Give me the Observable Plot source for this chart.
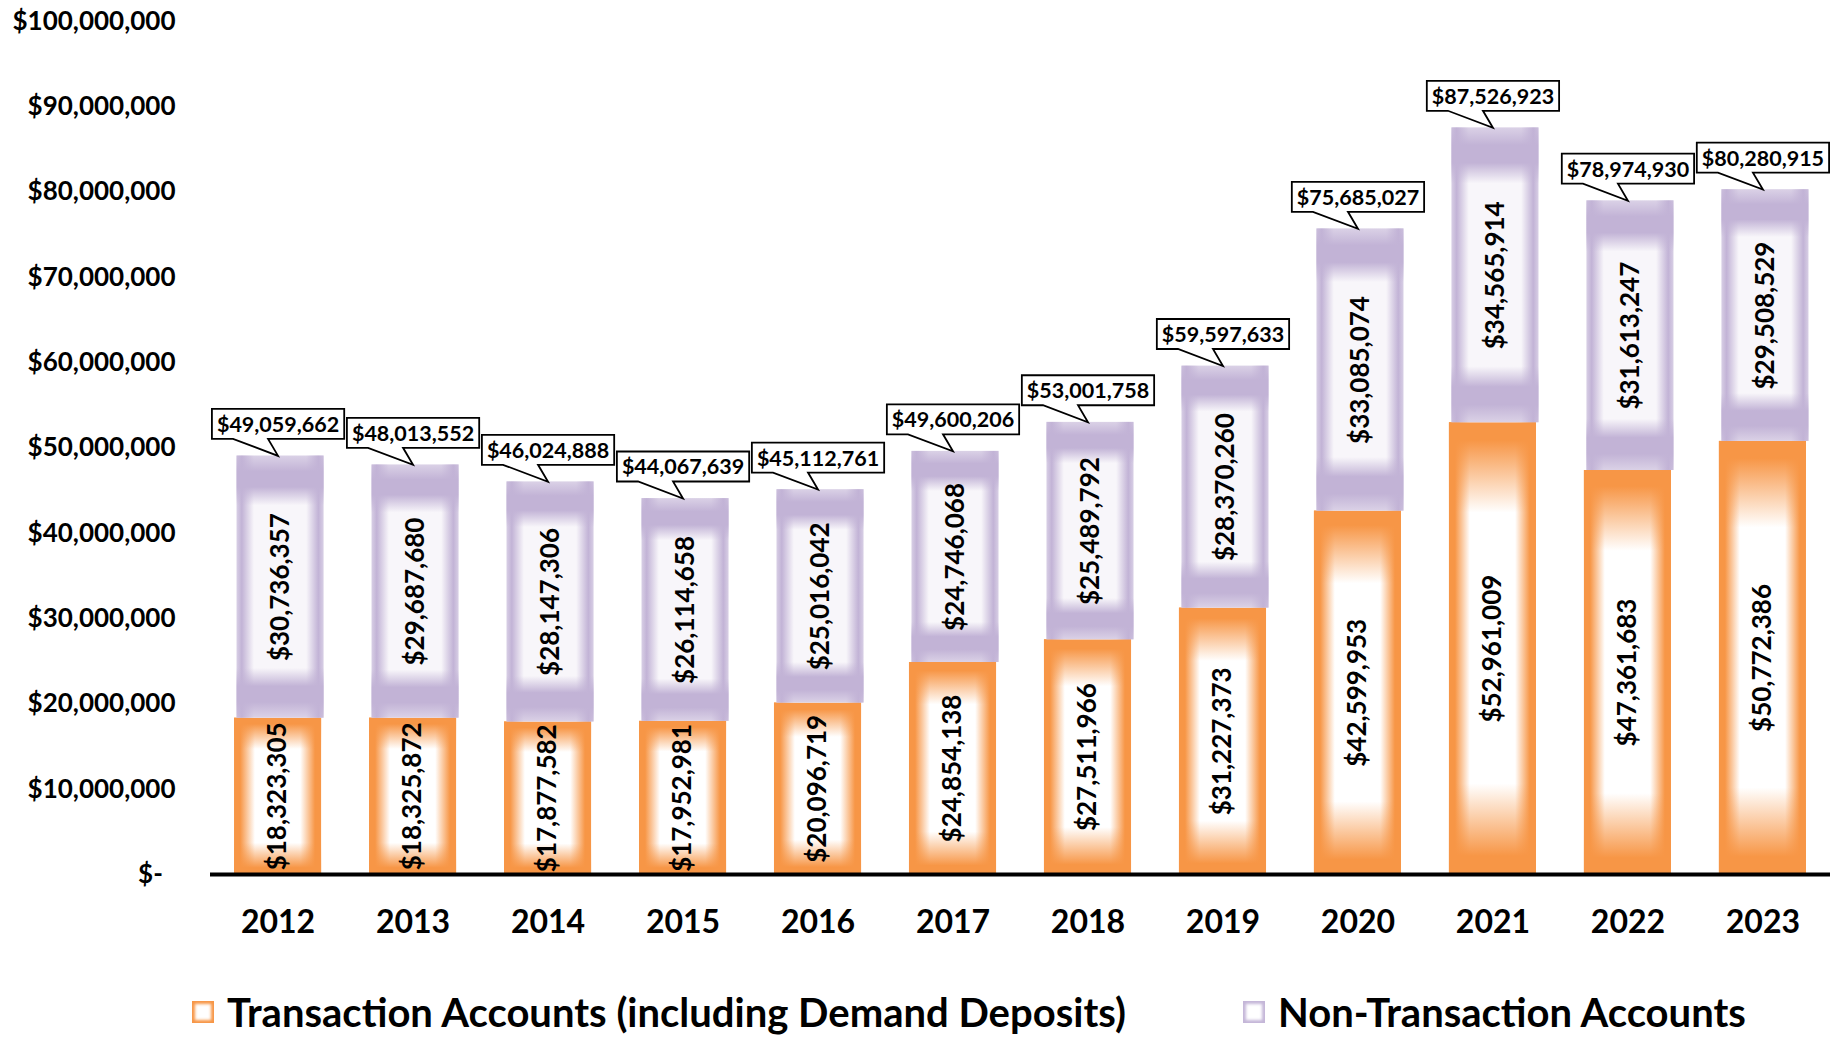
<!DOCTYPE html>
<html><head><meta charset="utf-8">
<script src="https://cdn.jsdelivr.net/npm/d3@7"></script>
<script src="https://cdn.jsdelivr.net/npm/@observablehq/plot@0.6"></script>
<style>
html,body{margin:0;padding:0;background:#fff;}
body{width:1846px;height:1038px;overflow:hidden;position:relative;font-family:Lato, sans-serif;}
#chart{position:absolute;left:0;top:0;}
.item{position:absolute;top:992px;display:flex;align-items:center;font-weight:700;font-size:40px;line-height:1;color:#000;white-space:nowrap;}
.sw{width:22px;height:22px;margin-right:13px;background:#fff;}
.sw.o{box-shadow:inset 0 0 3px 3px #F79646;}
.sw.p{box-shadow:inset 0 0 3px 3px #C4B6D8;}
</style></head><body>
<svg width="0" height="0" style="position:absolute">
<defs>
<linearGradient id="oH" x1="0" y1="0" x2="1" y2="0">
 <stop offset="0" stop-color="#F79646"/>
 <stop offset="0.07" stop-color="#F79646"/>
 <stop offset="0.24" stop-color="#FFFFFF"/>
 <stop offset="0.76" stop-color="#FFFFFF"/>
 <stop offset="0.93" stop-color="#F79646"/>
 <stop offset="1" stop-color="#F79646"/>
</linearGradient>
<linearGradient id="oV" x1="0" y1="0" x2="0" y2="1">
 <stop offset="0" stop-color="#F79646" stop-opacity="1"/>
 <stop offset="0.04" stop-color="#F79646" stop-opacity="1"/>
 <stop offset="0.2" stop-color="#F79646" stop-opacity="0"/>
 <stop offset="0.8" stop-color="#F79646" stop-opacity="0"/>
 <stop offset="0.96" stop-color="#F79646" stop-opacity="1"/>
 <stop offset="1" stop-color="#F79646" stop-opacity="1"/>
</linearGradient>
<linearGradient id="pH" x1="0" y1="0" x2="1" y2="0">
 <stop offset="0" stop-color="#D8CFE5"/>
 <stop offset="0.06" stop-color="#C2B3D6"/>
 <stop offset="0.2" stop-color="#F8F6FA"/>
 <stop offset="0.8" stop-color="#F8F6FA"/>
 <stop offset="0.94" stop-color="#C2B3D6"/>
 <stop offset="1" stop-color="#D8CFE5"/>
</linearGradient>
<linearGradient id="pV" x1="0" y1="0" x2="0" y2="1">
 <stop offset="0" stop-color="#C2B3D6" stop-opacity="0.55"/>
 <stop offset="0.06" stop-color="#C2B3D6" stop-opacity="1"/>
 <stop offset="0.12" stop-color="#C2B3D6" stop-opacity="1"/>
 <stop offset="0.19" stop-color="#C2B3D6" stop-opacity="0"/>
 <stop offset="0.81" stop-color="#C2B3D6" stop-opacity="0"/>
 <stop offset="0.88" stop-color="#C2B3D6" stop-opacity="1"/>
 <stop offset="0.94" stop-color="#C2B3D6" stop-opacity="1"/>
 <stop offset="1" stop-color="#C2B3D6" stop-opacity="0.55"/>
</linearGradient>
</defs>
</svg>
<div id="chart"></div>
<div id="legend">
 <div class="item" style="left:192px"><span class="sw o"></span>Transaction Accounts (including Demand Deposits)</div>
 <div class="item" style="left:1243px"><span class="sw p"></span>Non-Transaction Accounts</div>
</div>
<script>
const years = ["2012","2013","2014","2015","2016","2017","2018","2019","2020","2021","2022","2023"];
const transaction = [18323305, 18325872, 17877582, 17952981, 20096719, 24854138, 27511966, 31227373, 42599953, 52961009, 47361683, 50772386];
const nonTransaction = [30736357, 29687680, 28147306, 26114658, 25016042, 24746068, 25489792, 28370260, 33085074, 34565914, 31613247, 29508529];
const totals = [49059662, 48013552, 46024888, 44067639, 45112761, 49600206, 53001758, 59597633, 75685027, 87526923, 78974930, 80280915];
const yTicks = [0, 10000000, 20000000, 30000000, 40000000, 50000000, 60000000, 70000000, 80000000, 90000000, 100000000];

const money = d => "$" + d3.format(",")(d);
const tRows = years.map((year, i) => ({year, y1: 0, y2: transaction[i], v: transaction[i]}));
const nRows = years.map((year, i) => ({year, y1: transaction[i], y2: transaction[i] + nonTransaction[i], v: nonTransaction[i]}));
const totRows = years.map((year, i) => ({year, total: totals[i]}));

const chart = Plot.plot({
  width: 1846, height: 960,
  marginLeft: 210, marginRight: 16, marginTop: 21, marginBottom: 86,
  style: {fontFamily: "Lato, sans-serif", background: "transparent", color: "#000", overflow: "visible"},
  x: {domain: years, paddingInner: 0.355, paddingOuter: 0.178, round: false, label: null},
  y: {domain: [0, 100000000], label: null},
  marks: [
    Plot.barY(tRows, {x: "year", y1: "y1", y2: "y2", fill: "url(#oH)"}),
    Plot.barY(tRows, {x: "year", y1: "y1", y2: "y2", fill: "url(#oV)"}),
    Plot.barY(nRows, {x: "year", y1: "y1", y2: "y2", fill: "url(#pH)", dx: 2.5}),
    Plot.barY(nRows, {x: "year", y1: "y1", y2: "y2", fill: "url(#pV)", dx: 2.5}),
    Plot.text(tRows, {x: "year", y: d => (d.y1 + d.y2) / 2, text: d => money(d.v), rotate: -90, fontSize: 26, fontWeight: "bold", fill: "#000"}),
    Plot.text(nRows, {x: "year", y: d => (d.y1 + d.y2) / 2, text: d => money(d.v), rotate: -90, fontSize: 26, fontWeight: "bold", fill: "#000", dx: 2.5}),
    Plot.ruleY([0], {stroke: "#000", strokeWidth: 4}),
    Plot.axisY({ticks: yTicks, tickFormat: d => d === 0 ? "$-\u00a0\u00a0" : money(d), tickSize: 0, tickPadding: 35, fontSize: 26, fontWeight: "bold", label: null}),
    Plot.axisX({tickSize: 0, tickPadding: 36, fontSize: 32, fontWeight: "bold", label: null}),
    Plot.text(totRows, {x: "year", y: "total", text: d => money(d.total), dy: -31, fontSize: 21.5, fontWeight: "bold", fill: "#000"})
  ]
});
document.getElementById("chart").appendChild(chart);

// callout boxes around the total labels
const textGroups = chart.querySelectorAll('g[aria-label="text"]');
const callouts = textGroups[textGroups.length - 1];
const NS = "http://www.w3.org/2000/svg";
for (const t of Array.from(callouts.querySelectorAll("text"))) {
  const bb = t.getBBox();
  const cx = bb.x + bb.width / 2;
  const cy = bb.y + bb.height / 2;
  const L = bb.x - 5, R = bb.x + bb.width + 5, T = cy - 15, B = cy + 15, tip = cy + 32;
  const p = document.createElementNS(NS, "path");
  p.setAttribute("d", `M${L},${T}H${R}V${B}H${cx - 10}L${cx},${tip}L${cx - 45},${B}H${L}Z`);
  p.setAttribute("fill", "#fff");
  p.setAttribute("stroke", "#000");
  p.setAttribute("stroke-width", "1.8");
  p.setAttribute("stroke-linejoin", "miter");
  const tr = t.getAttribute("transform");
  if (tr) p.setAttribute("transform", tr);
  callouts.insertBefore(p, t);
}
</script>
</body></html>
